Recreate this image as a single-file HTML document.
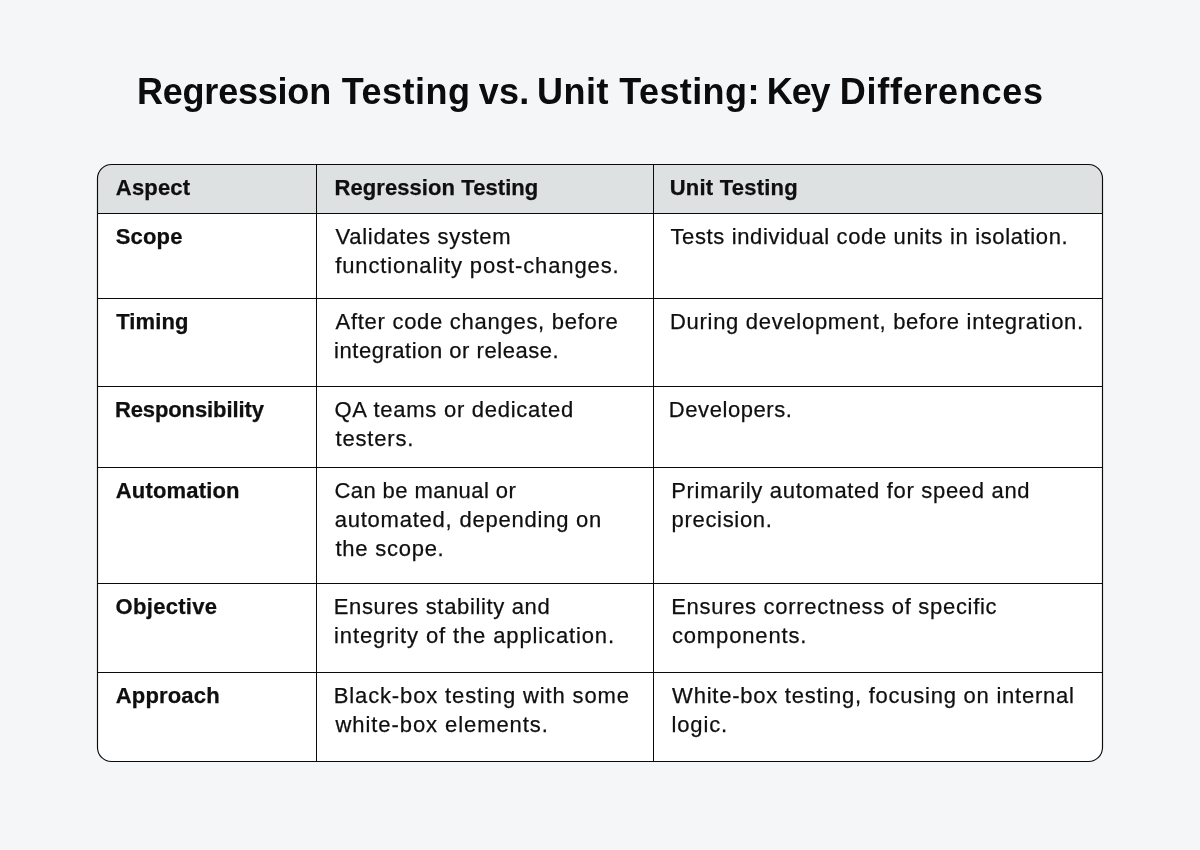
<!DOCTYPE html>
<html><head><meta charset="utf-8"><style>
html,body{margin:0;padding:0;}
body{width:1200px;height:850px;background:#f5f6f8;position:relative;overflow:hidden;font-family:"Liberation Sans",sans-serif;color:#0f0f0f;}
.t{position:absolute;white-space:nowrap;filter:grayscale(1);-webkit-text-stroke:0.25px #0f0f0f;font-size:22px;line-height:29px;}
.b{font-weight:bold;}
.ti{position:absolute;white-space:nowrap;filter:grayscale(1);font-size:36px;line-height:44px;font-weight:bold;color:#0c0c0c;}
</style></head><body>
<svg style="position:absolute;left:0;top:0" width="1200" height="850" viewBox="0 0 1200 850">
<defs><clipPath id="cp"><rect x="97.5" y="164.5" width="1005" height="597" rx="14" ry="14"/></clipPath></defs>
<g clip-path="url(#cp)">
<rect x="90" y="160" width="1020" height="610" fill="#ffffff"/>
<rect x="90" y="160" width="1020" height="53" fill="#dee1e2"/>
</g>
<g fill="#0b0b0b" shape-rendering="crispEdges">
<rect x="98" y="213" width="1004" height="1"/>
<rect x="98" y="298" width="1004" height="1"/>
<rect x="98" y="386" width="1004" height="1"/>
<rect x="98" y="467" width="1004" height="1"/>
<rect x="98" y="583" width="1004" height="1"/>
<rect x="98" y="672" width="1004" height="1"/>
<rect x="316" y="165" width="1" height="596"/>
<rect x="653" y="165" width="1" height="596"/>
</g>
<rect x="97.5" y="164.5" width="1005" height="597" rx="14" ry="14" fill="none" stroke="#0b0b0b" stroke-width="1.15"/>
</svg>
<div class="ti" style="left:136.97px;top:70.00px;letter-spacing:-0.211px">Regression</div>
<div class="ti" style="left:341.68px;top:70.00px;letter-spacing:0.489px">Testing</div>
<div class="ti" style="left:478.68px;top:70.00px;letter-spacing:0.296px">vs.</div>
<div class="ti" style="left:537.11px;top:70.00px;letter-spacing:0.484px">Unit</div>
<div class="ti" style="left:619.30px;top:70.00px;letter-spacing:0.395px">Testing:</div>
<div class="ti" style="left:766.79px;top:70.00px;letter-spacing:-1.113px">Key</div>
<div class="ti" style="left:839.79px;top:70.00px;letter-spacing:0.721px">Differences</div>
<div class="t b" style="left:115.82px;top:173.23px;letter-spacing:0.189px">Aspect</div>
<div class="t b" style="left:334.54px;top:173.23px;letter-spacing:0.072px">Regression Testing</div>
<div class="t b" style="left:669.66px;top:173.23px;letter-spacing:0.237px">Unit Testing</div>
<div class="t b" style="left:115.63px;top:222.13px;letter-spacing:0.182px">Scope</div>
<div class="t" style="left:335.59px;top:222.13px;letter-spacing:0.693px">Validates system</div>
<div class="t" style="left:335.25px;top:251.13px;letter-spacing:0.881px">functionality post-changes.</div>
<div class="t" style="left:670.40px;top:222.13px;letter-spacing:0.639px">Tests individual code units in isolation.</div>
<div class="t b" style="left:116.18px;top:307.13px;letter-spacing:0.104px">Timing</div>
<div class="t" style="left:335.51px;top:307.13px;letter-spacing:0.724px">After code changes, before</div>
<div class="t" style="left:334.10px;top:336.13px;letter-spacing:0.533px">integration or release.</div>
<div class="t" style="left:670.04px;top:307.13px;letter-spacing:0.701px">During development, before integration.</div>
<div class="t b" style="left:114.94px;top:395.33px;letter-spacing:-0.110px">Responsibility</div>
<div class="t" style="left:334.52px;top:395.33px;letter-spacing:0.742px">QA teams or dedicated</div>
<div class="t" style="left:335.49px;top:424.33px;letter-spacing:0.820px">testers.</div>
<div class="t" style="left:668.87px;top:395.33px;letter-spacing:0.561px">Developers.</div>
<div class="t b" style="left:115.78px;top:475.93px;letter-spacing:0.169px">Automation</div>
<div class="t" style="left:334.42px;top:475.93px;letter-spacing:0.429px">Can be manual or</div>
<div class="t" style="left:334.63px;top:504.93px;letter-spacing:0.779px">automated, depending on</div>
<div class="t" style="left:335.49px;top:533.93px;letter-spacing:0.747px">the scope.</div>
<div class="t" style="left:671.23px;top:475.93px;letter-spacing:0.690px">Primarily automated for speed and</div>
<div class="t" style="left:671.58px;top:504.93px;letter-spacing:0.678px">precision.</div>
<div class="t b" style="left:115.60px;top:591.93px;letter-spacing:0.302px">Objective</div>
<div class="t" style="left:333.75px;top:591.93px;letter-spacing:0.645px">Ensures stability and</div>
<div class="t" style="left:334.10px;top:620.93px;letter-spacing:0.871px">integrity of the application.</div>
<div class="t" style="left:671.23px;top:591.93px;letter-spacing:0.697px">Ensures correctness of specific</div>
<div class="t" style="left:671.91px;top:620.93px;letter-spacing:0.861px">components.</div>
<div class="t b" style="left:115.78px;top:680.93px;letter-spacing:0.166px">Approach</div>
<div class="t" style="left:333.75px;top:680.93px;letter-spacing:0.865px">Black-box testing with some</div>
<div class="t" style="left:335.54px;top:709.93px;letter-spacing:0.926px">white-box elements.</div>
<div class="t" style="left:672.11px;top:680.93px;letter-spacing:0.759px">White-box testing, focusing on internal</div>
<div class="t" style="left:671.40px;top:709.93px;letter-spacing:0.894px">logic.</div>
</body></html>
